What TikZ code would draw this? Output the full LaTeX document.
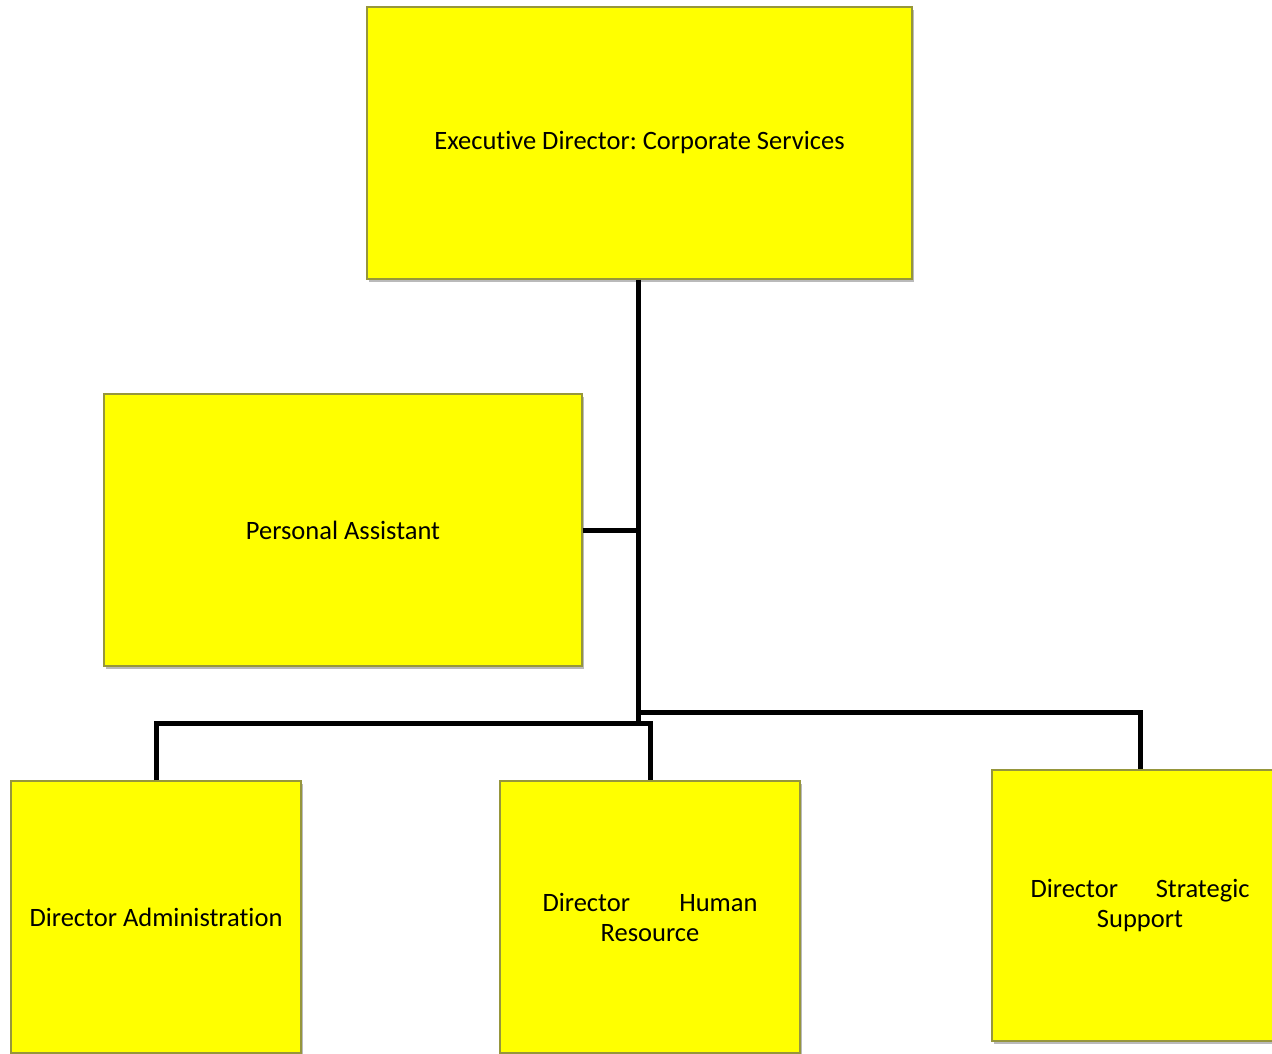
\documentclass[tikz,border=0pt]{standalone}
\usepackage{fontspec}
\setmainfont[Ligatures=NoCommon]{Carlito}
\frenchspacing
\usetikzlibrary{shadows}
\definecolor{boxfill}{RGB}{255,255,0}
\definecolor{boxline}{RGB}{150,150,60}
\begin{document}
\begin{tikzpicture}[x=1pt,y=-1pt,
  orgbox/.style={draw=boxline, line width=1.2pt, fill=boxfill, inner sep=0pt,
    drop shadow={shadow xshift=2pt, shadow yshift=-3pt, opacity=0.45, fill=black!60},
    font=\fontsize{26.5}{30}\selectfont, align=center},
  conn/.style={draw=black, line width=5pt}]
\useasboundingbox (0,0) rectangle (1272,1053);
\node[orgbox, minimum width=545pt, minimum height=272pt] (exec) at (639.5,143) {Executive Director: Corporate Services};
\node[orgbox, minimum width=478pt, minimum height=272pt] (pa) at (343,530) {Personal Assistant};
\node[orgbox, minimum width=290pt, minimum height=272pt] (admin) at (156,917) {Director Administration};
\node[orgbox, minimum width=300pt, minimum height=272pt, text width=215pt] (hr) at (650,917) {Director\hfill Human\\Resource};
\node[orgbox, minimum width=296pt, minimum height=271pt, text width=219pt] (strat) at (1140,905.5) {Director\hfill Strategic\\Support};
\coordinate (hb) at (638,723);
\coordinate (sb) at (638,712);
\draw[conn] (exec.south -| hb) -- (hb);
\draw[conn] (pa.east) -- (pa.east -| hb);
\draw[conn] (admin.north) |- (hr.north |- hb) -- (hr.north);
\draw[conn] (sb) -| (strat.north);
\end{tikzpicture}
\end{document}
